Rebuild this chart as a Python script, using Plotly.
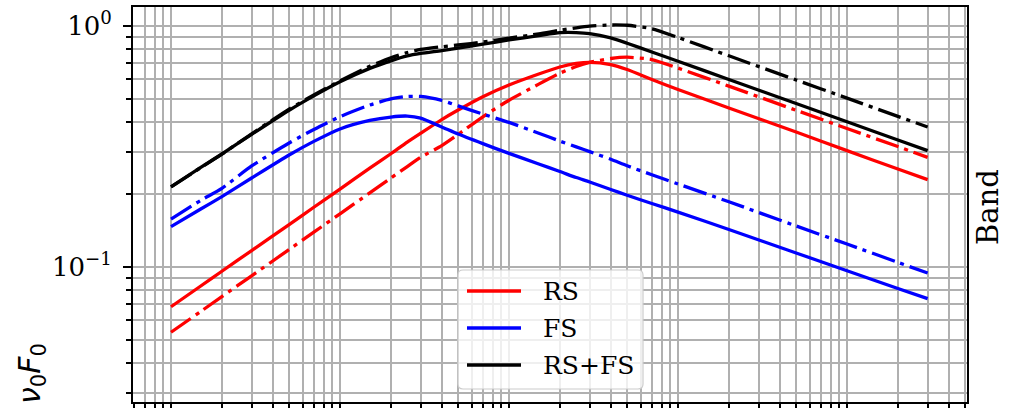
import plotly.graph_objects as go

# Observer time (s)
t = [10, 15, 20, 30, 50, 70, 100, 150, 200, 250, 300, 400, 500, 700,
     1e3, 1.5e3, 2e3, 2.5e3, 3e3, 4e3, 5e3, 7e3, 1e4, 2e4, 5e4, 1e5, 2e5, 3e5]

# Reverse-shock component (solid / dash-dot model)
rs = [0.0684, 0.0834, 0.0960, 0.117, 0.150, 0.177, 0.2105, 0.257, 0.295, 0.330,
      0.359, 0.409, 0.448, 0.509, 0.569, 0.632, 0.676, 0.699, 0.707, 0.692,
      0.660, 0.600, 0.545, 0.457, 0.363, 0.304, 0.255, 0.2305]
rs_dd = [0.0536, 0.0654, 0.0754, 0.0919, 0.1182, 0.1394, 0.1662, 0.203, 0.234, 0.261,
         0.285, 0.319, 0.355, 0.420, 0.492, 0.574, 0.637, 0.679, 0.706, 0.733,
         0.742, 0.726, 0.669, 0.563, 0.447, 0.3755, 0.316, 0.285]

# Forward-shock component
fs = [0.147, 0.174, 0.196, 0.234, 0.2915, 0.332, 0.374, 0.4055, 0.419, 0.423,
      0.415, 0.381, 0.356, 0.325, 0.296, 0.2676, 0.249, 0.235, 0.2253, 0.2097,
      0.1984, 0.1834, 0.169, 0.143, 0.1143, 0.0965, 0.0814, 0.0739]
fs_dd = [0.158, 0.189, 0.212, 0.2625, 0.327, 0.372, 0.4205, 0.470, 0.498, 0.510,
         0.510, 0.491, 0.466, 0.431, 0.398, 0.359, 0.333, 0.315, 0.301, 0.280,
         0.263, 0.2415, 0.221, 0.1865, 0.148, 0.1245, 0.1045, 0.0944]

# Total emission RS+FS
tot = [0.2148, 0.2588, 0.2943, 0.355, 0.447, 0.513, 0.587, 0.667, 0.717, 0.751,
       0.769, 0.790, 0.809, 0.840, 0.875, 0.912, 0.938, 0.939, 0.930, 0.892,
       0.848, 0.780, 0.714, 0.600, 0.477, 0.4005, 0.3365, 0.304]
tot_dd = [0.2148, 0.2585, 0.2938, 0.357, 0.452, 0.517, 0.592, 0.681, 0.738, 0.776,
          0.799, 0.820, 0.834, 0.858, 0.891, 0.927, 0.960, 0.983, 0.999, 1.0095,
          1.007, 0.974, 0.896, 0.752, 0.597, 0.502, 0.4216, 0.381]

legend_labels = ["RS", "FS", "RS+FS"]
colors = ["#ff0000", "#0000ff", "#000000"]

W, H = 1025, 408
L, R, T, B = 133, 58, 7, 6
PW, PH = W - L - R, H - T - B

def px(x):
    return (x - L) / PW

def py(y):
    return (H - B - y) / PH

LW = 3.3
DASHDOT = "24px,6px,4px,6px"
SERIF = "DejaVu Serif"

fig = go.Figure()
series = [(rs, rs_dd, colors[0], legend_labels[0]),
          (fs, fs_dd, colors[1], legend_labels[1]),
          (tot, tot_dd, colors[2], legend_labels[2])]
for solid, dd, c, name in series:
    fig.add_trace(go.Scatter(x=t, y=solid, mode="lines", name=name, showlegend=False,
                             line=dict(color=c, width=LW, shape="spline", smoothing=0.6)))
    fig.add_trace(go.Scatter(x=t, y=dd, mode="lines", name=name, showlegend=False,
                             line=dict(color=c, width=LW, dash=DASHDOT,
                                       shape="spline", smoothing=0.6)))

x_minor = [m * 10 ** k for k in range(0, 6) for m in range(2, 10)]
y_minor = [m * 10.0 ** k for k in (-2, -1) for m in range(2, 10)]

grid = dict(showgrid=True, gridcolor="#b0b0b0", gridwidth=1.6)
common = dict(type="log", showline=True, linecolor="black", linewidth=2, mirror=True,
              ticks="outside", ticklen=8, tickwidth=1.6, tickcolor="black",
              zeroline=False, automargin=False, **grid)

fig.update_layout(
    width=W, height=H,
    margin=dict(l=L, r=R, t=T, b=B, pad=0),
    template="none",
    paper_bgcolor="white", plot_bgcolor="white",
    font=dict(family=SERIF, size=25, color="black"),
    showlegend=False,
    xaxis=dict(range=[0.7751, 5.710], tickvals=[10, 100, 1e3, 1e4, 1e5],
               showticklabels=False,
               minor=dict(tickvals=x_minor, ticks="outside", ticklen=5, tickwidth=1.6,
                          tickcolor="black", **grid),
               **common),
    yaxis=dict(range=[-1.5602, 0.0788], tickvals=[0.1, 1],
               ticktext=["10<sup>\u22121</sup>", "10<sup>0</sup>"],
               tickfont=dict(family=SERIF, size=26), ticklabelstandoff=6,
               minor=dict(tickvals=y_minor, ticks="outside", ticklen=5, tickwidth=1.6,
                          tickcolor="black", **grid),
               **common),
)

# Legend frame with rounded corners
x0, x1, y0, y1 = px(458), px(643), py(389), py(270)
rx, ry = 5 / PW, 5 / PH
path = (f"M{x0+rx},{y0} L{x1-rx},{y0} Q{x1},{y0} {x1},{y0+ry} "
        f"L{x1},{y1-ry} Q{x1},{y1} {x1-rx},{y1} L{x0+rx},{y1} "
        f"Q{x0},{y1} {x0},{y1-ry} L{x0},{y0+ry} Q{x0},{y0} {x0+rx},{y0} Z")
fig.add_shape(type="path", path=path, xref="paper", yref="paper", layer="above",
              fillcolor="rgba(255,255,255,0.8)", line=dict(color="#cccccc", width=1.2))

for i, (label, c) in enumerate(zip(legend_labels, colors)):
    yy = py(291 + 37 * i)
    fig.add_shape(type="line", xref="paper", yref="paper", layer="above",
                  x0=px(467), x1=px(521), y0=yy, y1=yy, line=dict(color=c, width=LW))
    fig.add_annotation(text=label, xref="paper", yref="paper", x=px(541), y=yy,
                       xanchor="left", yanchor="middle", showarrow=False,
                       font=dict(family=SERIF, size=25, color="black"))

# Panel label on the right
fig.add_annotation(text="Band", xref="paper", yref="paper", x=px(988), y=py(207),
                   xanchor="center", yanchor="middle", textangle=-90, showarrow=False,
                   font=dict(family=SERIF, size=29, color="black"))

# Y-axis label
fig.add_annotation(text="<i>\u03bd</i><sub>0</sub><i>F</i><sub>0</sub>",
                   xref="paper", yref="paper", x=px(31), y=py(374),
                   xanchor="center", yanchor="middle", textangle=-90, showarrow=False,
                   font=dict(family="DejaVu Sans", size=30, color="black"))

fig.write_html("out.html")
